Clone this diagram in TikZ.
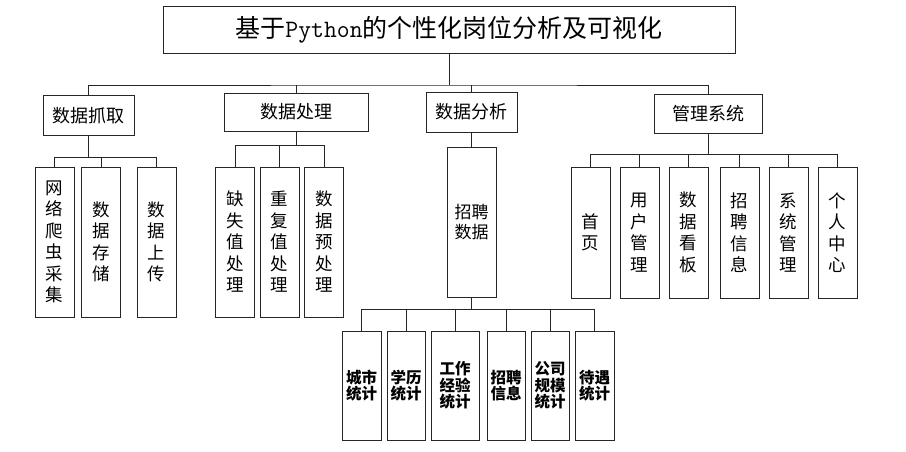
\documentclass[tikz,border=0pt]{standalone}
\usepackage{fontspec}
\newfontfamily\cjk{Noto Sans CJK SC}
\usetikzlibrary{calc}

\tikzset{
  box/.style={draw=black!85, line width=0.9pt, inner sep=0pt, align=center},
  topbox/.style={box, minimum width=572pt, minimum height=47pt,
    font=\cjk\fontsize{25}{29}\selectfont},
  headbox/.style={box, minimum height=40pt, font=\cjk\fontsize{18}{22}\selectfont},
  tallbox/.style={box, minimum width=39pt, font=\cjk\fontsize{17.5}{21.5}\selectfont},
  lowbox/.style={box, minimum height=109pt, font=\cjk\bfseries\fontsize{15.5}{16.5}\selectfont},
  link/.style={draw=black!85, line width=0.9pt}
}

\begin{document}
\begin{tikzpicture}[x=1pt,y=-1pt]
  \useasboundingbox (0,0) rectangle (906,452);

  % title and first level
  \node[topbox] (title) at (449,29.5) {基于\texttt{Python}的个性化岗位分析及可视化};
  \node[headbox, minimum width=91pt] (grab) at (88.5,115.5) {数据抓取};
  \node[headbox, minimum width=144pt, minimum height=38pt] (proc) at (296,112) {数据处理};
  \node[headbox, minimum width=91pt] (anal) at (471.5,112) {数据分析};
  \node[headbox, minimum width=108pt, minimum height=39pt] (mgmt) at (708,113.5) {管理系统};

  \coordinate (b0) at (449,85);
  \draw[link] (title.south) -- (b0);
  \draw[link] (grab.north) |- (b0) -| (mgmt.north);
  \draw[link] (proc.north) -- (proc.north |- b0);
  \draw[link] (anal.north) -- (anal.north |- b0);

  % data grabbing
  \node[tallbox, minimum height=150pt] (g1) at (54.5,242) {网\\络\\爬\\虫\\采\\集};
  \node[tallbox, minimum height=150pt] (g2) at (101,242) {数\\据\\存\\储};
  \node[tallbox, minimum height=150pt] (g3) at (156.5,242) {数\\据\\上\\传};
  \coordinate (b1) at (88.5,157);
  \draw[link] (grab.south) -- (b1);
  \foreach \n in {g1,g2,g3}
    \draw[link] (\n.north) |- (b1);

  % data processing
  \node[tallbox, minimum height=150pt] (p1) at (235,242) {缺\\失\\值\\处\\理};
  \node[tallbox, minimum height=150pt] (p2) at (279.5,242) {重\\复\\值\\处\\理};
  \node[tallbox, minimum height=150pt] (p3) at (324,242) {数\\据\\预\\处\\理};
  \coordinate (b2) at (296,145);
  \draw[link] (proc.south) -- (b2);
  \foreach \n in {p1,p2,p3}
    \draw[link] (\n.north) |- (b2);

  % data analysis
  \node[tallbox, minimum width=49pt, minimum height=150pt, font=\cjk\fontsize{17}{20}\selectfont] (rec) at (471.5,222) {招聘\\数据};
  \draw[link] (anal.south) -- (rec.north);
  \node[lowbox, minimum width=39pt] (a1) at (361.5,385.5) {城市\\统计};
  \node[lowbox, minimum width=38pt] (a2) at (406,385.5) {学历\\统计};
  \node[lowbox, minimum width=48pt] (a3) at (455,385.5) {工作\\经验\\统计};
  \node[lowbox, minimum width=38pt] (a4) at (506,385.5) {招聘\\信息};
  \node[lowbox, minimum width=38pt] (a5) at (550,385.5) {公司\\规模\\统计};
  \node[lowbox, minimum width=39pt] (a6) at (594.5,385.5) {待遇\\统计};
  \coordinate (b3) at (471.5,309);
  \draw[link, line width=1.8pt] (rec.south) -- (b3);
  \foreach \n in {a1,a2,a3,a4,a5,a6}
    \draw[link] (\n.north) |- (b3);

  % management system
  \node[tallbox, minimum height=131pt] (m1) at (590.5,232.5) {首\\页};
  \node[tallbox, minimum height=131pt] (m2) at (639.5,232.5) {用\\户\\管\\理};
  \node[tallbox, minimum height=131pt] (m3) at (688.5,232.5) {数\\据\\看\\板};
  \node[tallbox, minimum height=131pt] (m4) at (739.5,232.5) {招\\聘\\信\\息};
  \node[tallbox, minimum height=131pt] (m5) at (788.5,232.5) {系\\统\\管\\理};
  \node[tallbox, minimum height=131pt] (m6) at (837.5,232.5) {个\\人\\中\\心};
  \coordinate (b4) at (708,154);
  \draw[link] (mgmt.south) -- (b4);
  \foreach \n in {m1,m2,m3,m4,m5,m6}
    \draw[link] (\n.north) |- (b4);
\end{tikzpicture}
\end{document}
